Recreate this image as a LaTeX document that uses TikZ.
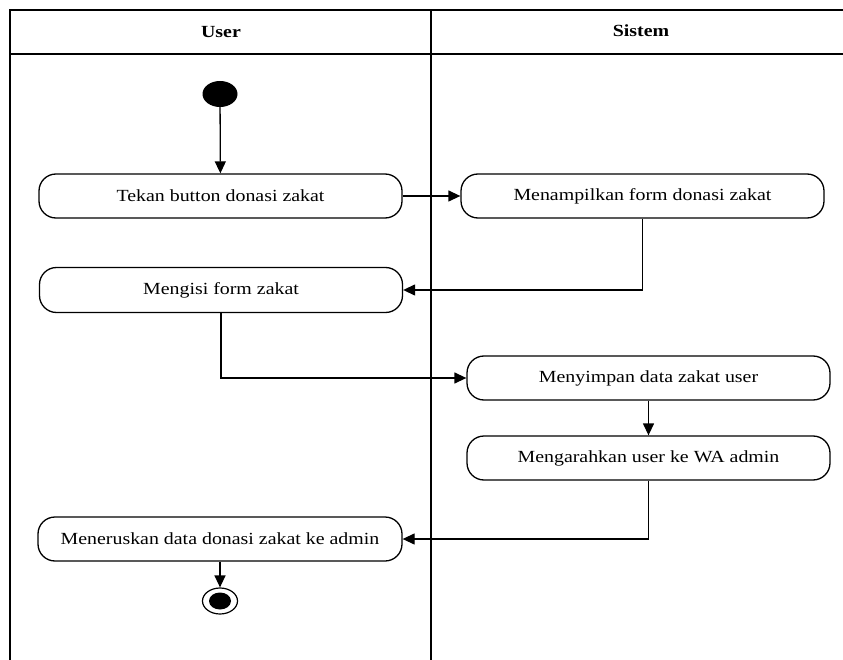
\documentclass[tikz,border=0pt]{standalone}
\usepackage{fontspec}
\setmainfont{Liberation Serif}[FakeStretch=1.17]
\usepackage{tikz}
\usetikzlibrary{arrows.meta,shapes.geometric}

\begin{document}
\begin{tikzpicture}[x=1pt,y=-1pt,
		act/.style={draw,line width=1.3pt,rounded corners=17pt,minimum width=363pt,minimum height=44pt,font=\fontsize{17}{20}\selectfont},
		flow/.style={draw,line width=1.3pt,-{Triangle[length=12pt,width=11pt]}},
		lane/.style={line width=2pt}]
			\useasboundingbox (0,0) rectangle (843,660);
			\draw[lane] (10,660) -- (10,10) -- (843,10);
			\draw[lane] (10,54) -- (843,54);
			\draw[lane] (431,10) -- (431,660);
			\node[font=\fontsize{17}{20}\selectfont\bfseries] (huser) at (221,32) {User};
			\node[font=\fontsize{17}{20}\selectfont\bfseries] (hsistem) at (641,31) {Sistem};
			\node[ellipse,fill,minimum width=35pt,minimum height=26pt,inner sep=0pt] (mulai) at (220,94) {};
			\node[act] (tekan) at (220.5,196) {Tekan button donasi zakat};
			\node[act] (tampil) at (642.5,196) {Menampilkan form donasi zakat};
			\node[act,minimum height=45pt] (isi) at (221,290) {Mengisi form zakat};
			\node[act] (simpan) at (648.5,378) {Menyimpan data zakat user};
			\node[act] (arah) at (648.5,458) {Mengarahkan user ke WA admin};
			\node[act,minimum width=364pt] (terus) at (220,539) {Meneruskan data donasi zakat ke admin};
			\node[ellipse,draw,line width=1.2pt,minimum width=35pt,minimum height=26pt,inner sep=0pt] (selesai) at (220,601) {};
			\fill (selesai.center) ellipse (11pt and 8.5pt);
			\draw[flow] (mulai) -- (tekan);
			\draw[flow] (tekan) -- (tampil);
			\draw[flow] (tampil.south) |- (isi.east);
			\draw[flow] (isi.south) |- (simpan.west);
			\draw[flow] (simpan) -- (arah);
			\draw[flow] (arah.south) |- (terus.east);
			\draw[flow] (terus) -- (selesai);
		\end{tikzpicture}
\end{document}
